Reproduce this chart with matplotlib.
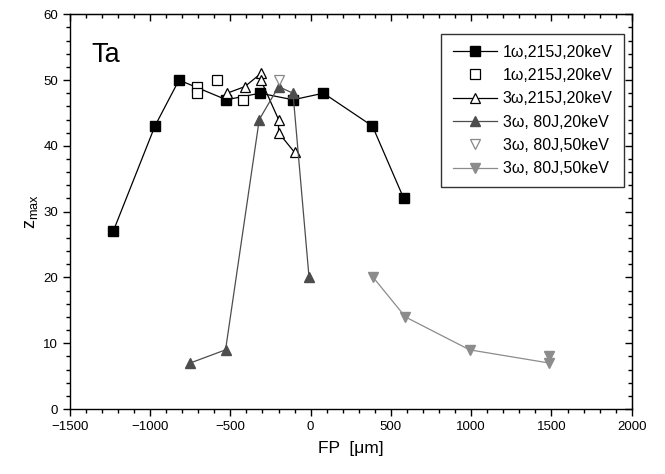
import matplotlib
matplotlib.use('Agg')
import matplotlib.pyplot as plt
from matplotlib.ticker import MultipleLocator

plt.rcParams['font.family'] = ['Liberation Sans', 'DejaVu Sans']
plt.rcParams['mathtext.default'] = 'regular'

# 1w, 215J, 20keV (filled squares, line)
fp_1w_a = [-1230, -970, -820, -525, -315, -110, 80, 385, 580]
z_1w_a = [27, 43, 50, 47, 48, 47, 48, 43, 32]
# 1w, 215J, 20keV (open squares)
fp_1w_b = [-710, -710, -585, -420]
z_1w_b = [49, 48, 50, 47]
# 3w, 215J, 20keV (open triangles, line)
fp_3w_215 = [-520, -410, -310, -310, -200, -200, -100]
z_3w_215 = [48, 49, 51, 50, 44, 42, 39]
# 3w, 80J, 20keV (dark triangles, line)
fp_3w_80_20 = [-750, -530, -320, -200, -110, -10]
z_3w_80_20 = [7, 9, 44, 49, 48, 20]
# 3w, 80J, 50keV (open down triangles)
fp_3w_80_50a = [-200]
z_3w_80_50a = [50]
# 3w, 80J, 50keV (grey down triangles, line)
fp_3w_80_50b = [390, 590, 990, 1485, 1485]
z_3w_80_50b = [20, 14, 9, 7, 8]

labels = ['1\u03c9,215J,20keV', '1\u03c9,215J,20keV', '3\u03c9,215J,20keV',
          '3\u03c9, 80J,20keV', '3\u03c9, 80J,50keV', '3\u03c9, 80J,50keV']

fig = plt.figure(figsize=(6.65, 4.74), dpi=100)
ax = fig.add_axes([0.105, 0.137, 0.845, 0.833])

ax.plot(fp_1w_a, z_1w_a, '-s', color='black', lw=0.9, ms=6.5, mfc='black', label=labels[0])
ax.plot(fp_1w_b, z_1w_b, 's', color='black', ls='none', ms=6.5, mfc='white', mew=0.9, label=labels[1])
ax.plot(fp_3w_215, z_3w_215, '-^', color='black', lw=0.9, ms=7.5, mfc='white', mew=0.9, label=labels[2])
ax.plot(fp_3w_80_20, z_3w_80_20, '-^', color='#4d4d4d', lw=0.9, ms=7.5, mfc='#4d4d4d', label=labels[3])
ax.plot(fp_3w_80_50a, z_3w_80_50a, 'v', color='#888888', ls='none', ms=7.5, mfc='white', mew=0.9, label=labels[4])
ax.plot(fp_3w_80_50b, z_3w_80_50b, '-v', color='#8c8c8c', lw=0.9, ms=7.5, mfc='#8c8c8c', label=labels[5])

ax.set_xlim(-1500, 2000)
ax.set_ylim(0, 60)
ax.xaxis.set_major_locator(MultipleLocator(500))
ax.xaxis.set_minor_locator(MultipleLocator(100))
ax.yaxis.set_major_locator(MultipleLocator(10))
ax.yaxis.set_minor_locator(MultipleLocator(2))
ax.tick_params(which='both', direction='out', labelsize=9.5, width=1)
ax.tick_params(which='major', length=5)
ax.tick_params(which='minor', length=3)
for s in ax.spines.values():
    s.set_linewidth(1)

# mirrored ticks on top and right, pointing in
ax2 = ax.secondary_xaxis('top')
ax2.xaxis.set_major_locator(MultipleLocator(500))
ax2.xaxis.set_minor_locator(MultipleLocator(100))
ax2.tick_params(which='both', direction='in', labeltop=False, width=1)
ax2.tick_params(which='major', length=5)
ax2.tick_params(which='minor', length=3)
ax3 = ax.secondary_yaxis('right')
ax3.yaxis.set_major_locator(MultipleLocator(10))
ax3.yaxis.set_minor_locator(MultipleLocator(2))
ax3.tick_params(which='both', direction='in', labelright=False, width=1)
ax3.tick_params(which='major', length=5)
ax3.tick_params(which='minor', length=3)

ax.set_xlabel('FP  [\u03bcm]', fontsize=12.5, labelpad=6)
ax.set_ylabel('$z_{max}$', fontsize=13, labelpad=2)
ax.text(0.039, 0.878, 'Ta', transform=ax.transAxes, fontsize=19.5)

leg = ax.legend(loc='upper right', bbox_to_anchor=(0.986, 0.951), borderaxespad=0,
                fancybox=False, edgecolor='black', fontsize=11.5, handlelength=2.8,
                handletextpad=0.35, labelspacing=0.52, borderpad=0.7)
leg.get_frame().set_linewidth(1)

fig.savefig('out.png', dpi=100)
